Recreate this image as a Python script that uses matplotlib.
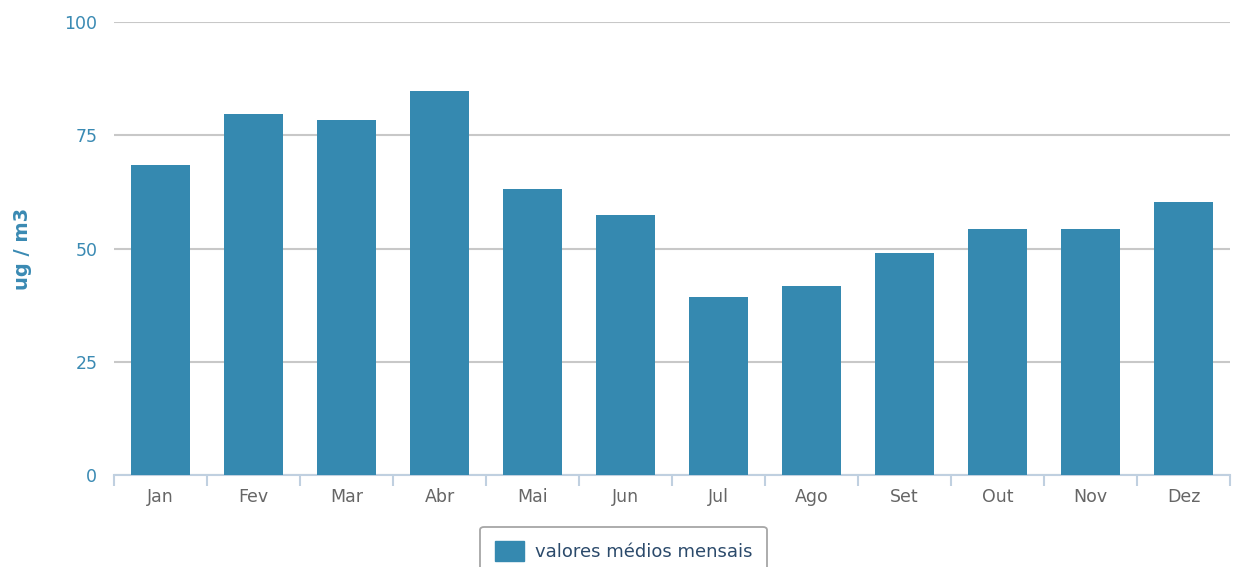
import numpy as np
import matplotlib.pyplot as plt
from matplotlib.patches import Patch

months = ["Jan", "Fev", "Mar", "Abr", "Mai", "Jun", "Jul", "Ago", "Set", "Out", "Nov", "Dez"]
values = [68.5, 79.7, 78.3, 84.7, 63.2, 57.5, 39.2, 41.8, 49.0, 54.3, 54.3, 60.3]
yticks = [0, 25, 50, 75, 100]

bar_color = "#3589B0"
label_blue = "#3A8AB3"

plt.rcParams["font.family"] = ["DejaVu Sans"]

fig = plt.figure(figsize=(12.41, 5.67), dpi=100)
ax = fig.add_axes([114 / 1241, 1 - 475 / 567, (1230 - 114) / 1241, (475 - 22) / 567])

x = np.arange(len(months))
ax.bar(x, values, width=0.63, color=bar_color, zorder=3, label="valores médios mensais")

ax.set_xlim(-0.5, len(months) - 0.5)
ax.set_ylim(0, 100)
ax.set_yticks(yticks)
ax.set_yticklabels([str(t) for t in yticks], color=label_blue, fontsize=12.5)
ax.yaxis.grid(True, color="#C8C8C8", linewidth=1.5, zorder=0)
ax.tick_params(axis="y", length=0, pad=12)

# category labels centred, tick marks at category boundaries
ax.set_xticks(x)
ax.set_xticklabels(months, color="#666666", fontsize=12.5)
ax.tick_params(axis="x", length=0, pad=9)
ax.set_xticks(np.arange(-0.5, len(months)), minor=True)
ax.tick_params(axis="x", which="minor", length=8, width=1.5, color="#C0D0E0", direction="out")

for side in ["top", "right", "left"]:
    ax.spines[side].set_visible(False)
ax.spines["bottom"].set_color("#C0D0E0")
ax.spines["bottom"].set_linewidth(1.5)

ax.set_ylabel("ug / m3", color=label_blue, fontsize=14, fontweight="bold")
ax.yaxis.set_label_coords((32 - 114) / 1116, 0.5)

handle = Patch(facecolor=bar_color, edgecolor=bar_color)
leg = fig.legend([handle], ["valores médios mensais"], loc="upper center",
                 bbox_to_anchor=(623.5 / 1241, 1 - 516 / 567), fontsize=13,
                 frameon=True, fancybox=True, borderpad=0.8, borderaxespad=0.6,
                 handlelength=1.6, handleheight=1.3, handletextpad=0.6,
                 labelcolor="#2B4A6B")
leg.get_frame().set_edgecolor("#909090")
leg.get_frame().set_linewidth(1.3)

fig.savefig("out.png", dpi=100)
